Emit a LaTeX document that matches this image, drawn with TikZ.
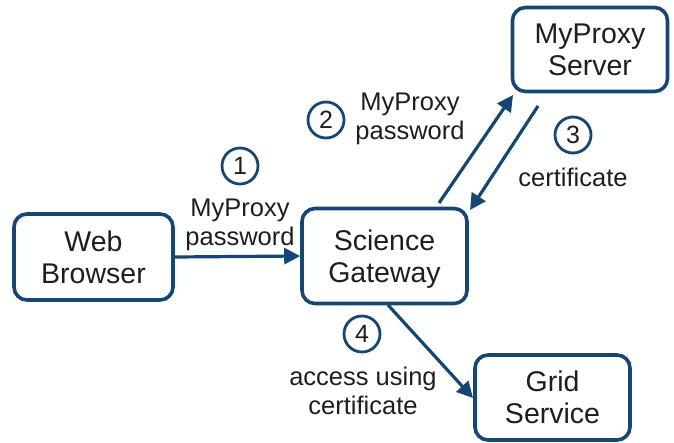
\documentclass[tikz,border=0pt]{standalone}
\usepackage{fontspec}
\setmainfont{Liberation Sans}
\usetikzlibrary{arrows.meta}
\definecolor{navy}{RGB}{22,70,115}
\definecolor{txt}{RGB}{30,30,30}
\tikzset{
  box/.style={draw=navy, line width=3.6pt, rounded corners=13pt, minimum width=#1, fill=white, text=txt,
    align=center, font=\fontsize{28.5}{32}\selectfont, inner sep=0pt, text depth=-4pt},
  box/.default=158pt,
  conn/.style={draw=navy, line width=3.2pt, -{Triangle[length=16pt,width=16pt]}},
  num/.style={draw=navy, circle, line width=2.8pt, minimum size=36pt, inner sep=0pt, text=txt,
    font=\fontsize{25}{25}\selectfont},
  lbl/.style={text=txt, align=center, font=\fontsize{25.5}{29}\selectfont, inner sep=0pt}
}
\begin{document}
\begin{tikzpicture}[x=1pt,y=-1pt]
\useasboundingbox (0,0) rectangle (674,442);
\node[box=159pt, minimum height=86pt] (web) at (93.5,257) {Web\\Browser};
\node[box=165pt, minimum height=95pt] (sg) at (384.5,256) {Science\\Gateway};
\node[box=155pt, minimum height=84pt] (mp) at (590,49.5) {MyProxy\\Server};
\node[box=155pt, minimum height=85pt] (gs) at (552.5,397.5) {Grid\\Service};

\coordinate (a2s) at (439,203);
\coordinate (a2e) at (513,95);
\coordinate (a3s) at (538,106);
\coordinate (a3e) at (470,210);
\coordinate (a4s) at (388,305);
\coordinate (a4e) at (473,398);

\draw[conn] (web.east) -- (sg.west);
\draw[conn] (a2s) -- (a2e);
\draw[conn] (a3s) -- (a3e);
\draw[conn] (a4s) -- (a4e);

\node[num] (n1) at (240,166) {1};
\node[num] (n2) at (326,120) {2};
\node[num] (n3) at (573,135) {3};
\node[num] (n4) at (362,334) {4};

\node[lbl] (l1) at (240,224.5) {MyProxy\\password};
\node[lbl] (l2) at (410,118.5) {MyProxy\\password};
\node[lbl] (l3) at (573,177) {certificate};
\node[lbl] (l4) at (363,390.5) {access using\\certificate};
\end{tikzpicture}
\end{document}
